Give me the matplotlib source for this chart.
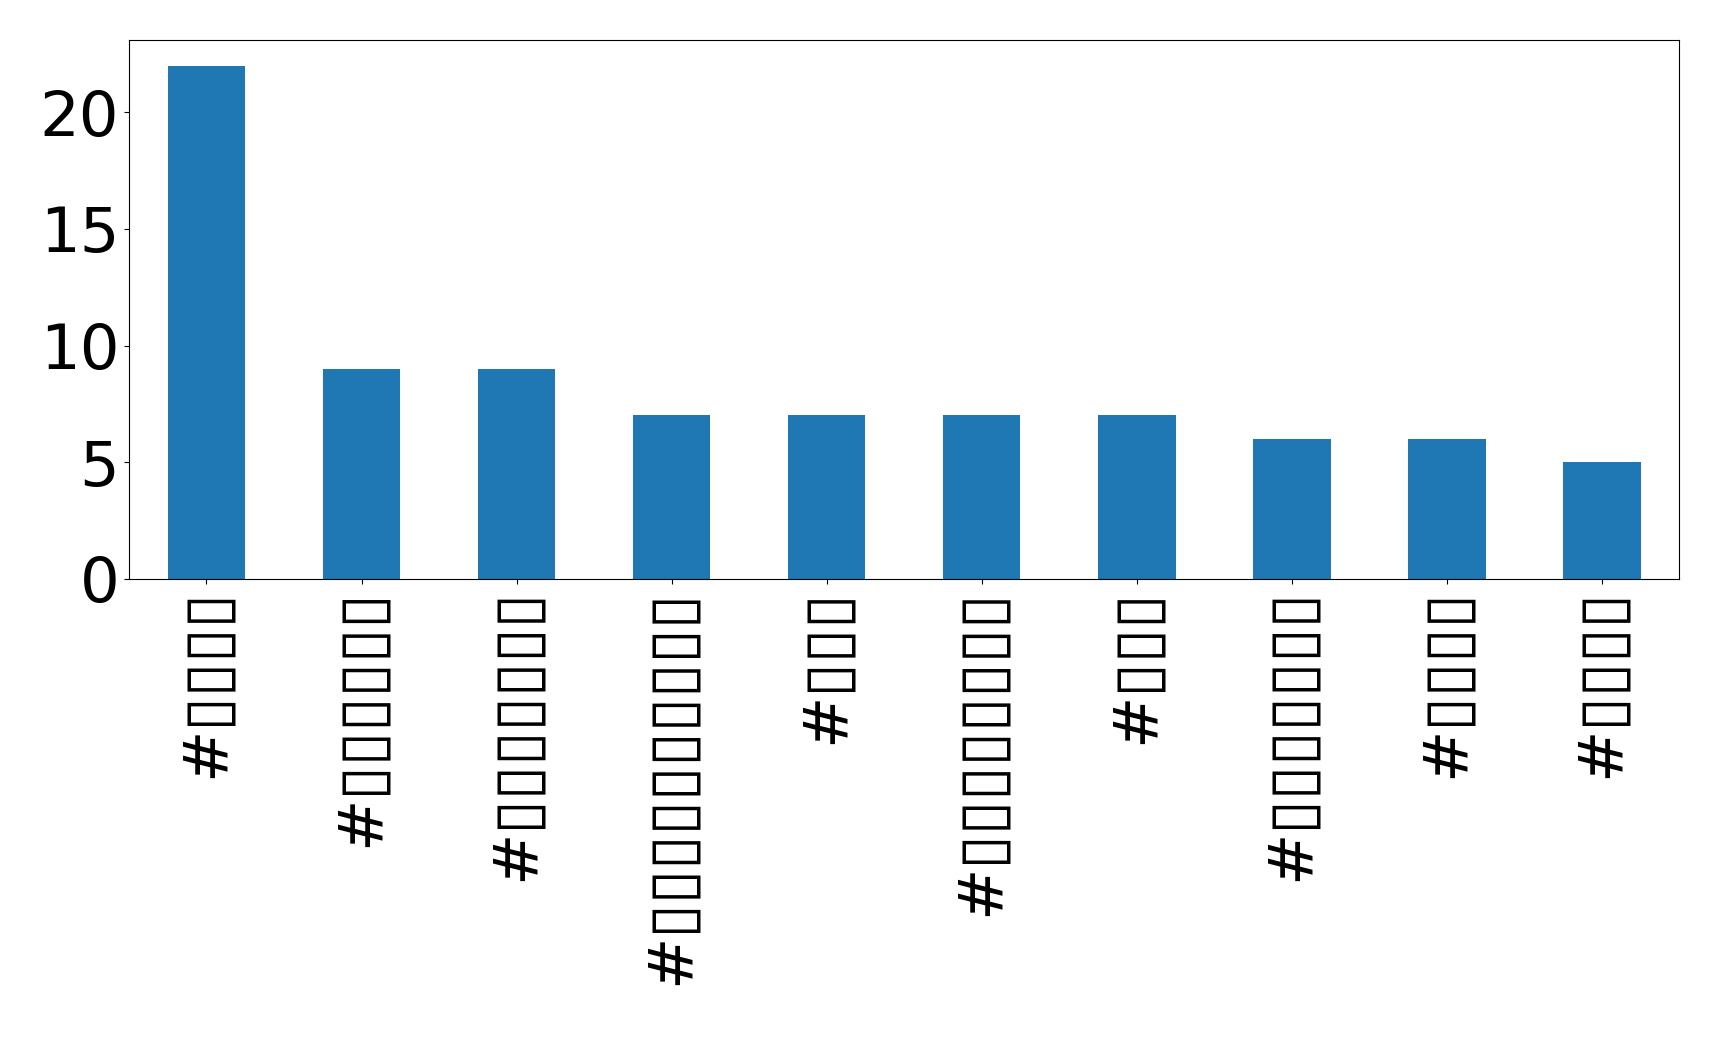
import matplotlib
matplotlib.use("Agg")
import matplotlib.pyplot as plt
import pandas as pd

# hashtag labels as they show in the picture (glyphs render as empty boxes)
box = "\u25af"
tags = ["#" + box * 4, "#" + box * 6, "#" + box * 7, "#" + box * 10, "#" + box * 3,
        "#" + box * 8, "#" + box * 3, "#" + box * 7, "#" + box * 4, "#" + box * 4]
counts = [22, 9, 9, 7, 7, 7, 7, 6, 6, 5]

plt.rcParams['font.family'] = ['DejaVu Sans']

fig = plt.figure(figsize=(17.19, 10.56), dpi=100)
ax = fig.add_axes([0.075, 0.452, 0.902, 0.510])

s = pd.Series(counts, index=tags)
s.plot.bar(ax=ax, color="#1f77b4", fontsize=45)

ax.set_yticks([0, 5, 10, 15, 20])
plt.setp(ax.get_xticklabels(), rotation=90)

fig.savefig("out.png", dpi=100)
